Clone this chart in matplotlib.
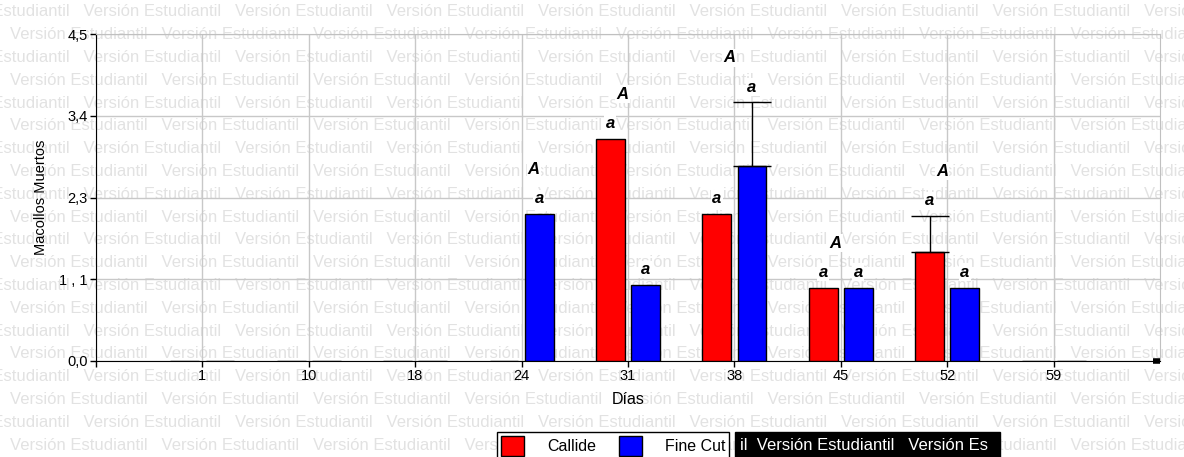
import numpy as np
import matplotlib.pyplot as plt
from matplotlib.patches import Patch, Rectangle

plt.rcParams['font.family'] = ['Liberation Sans', 'DejaVu Sans']

# Datos: macollos muertos por día de muestreo
dias = ['1', '10', '18', '24', '31', '38', '45', '52', '59']
callide = [0, 0, 0, 0, 3.06, 2.02, 1.01, 1.50, 0]
fine_cut = [0, 0, 0, 2.02, 1.05, 2.69, 1.01, 1.01, 0]
err_callide = [0, 0, 0, 0, 0, 0, 0, 0.50, 0]
err_fine = [0, 0, 0, 0, 0, 0.87, 0, 0, 0]
let_callide = ['', '', '', '', 'a', 'a', 'a', 'a', '']
let_fine = ['', '', '', 'a', 'a', 'a', 'a', 'a', '']
let_grupo = ['', '', '', 'A', 'A', 'A', 'A', 'A', '']
yticks = [0, 1.125, 2.25, 3.375, 4.5]
ytick_labels = ['0,0', '1 , 1', '2,3', '3,4', '4,5']

W, H = 1184, 457
fig = plt.figure(figsize=(W / 100, H / 100), dpi=100)

# marca de agua de fondo
marca = 'Versión Estudiantil   ' * 9
for i in range(20):
    yp = 12 + 22.8 * i
    xp = 10 if i % 2 else -68
    t = fig.text(xp / W, 1 - yp / H, marca, fontsize=12, color='#e2e2e2',
                 va='center', ha='left', zorder=-5)
    t.set_clip_on(True)

ax = fig.add_axes([96 / W, 1 - 361 / H, (1160 - 96) / W, (361 - 34) / H])
ax.set_facecolor('none')

x = np.arange(1, len(dias) + 1)
w = 0.27
off = 0.165
xc = x - off
xf = x + off

ax.bar(xc, callide, w, color='#ff0000', edgecolor='black', linewidth=1, zorder=3)
ax.bar(xf, fine_cut, w, color='#0000ff', edgecolor='black', linewidth=1, zorder=3)

for xs, vals, errs in [(xc, callide, err_callide), (xf, fine_cut, err_fine)]:
    for xi, v, e in zip(xs, vals, errs):
        if e > 0:
            ax.errorbar(xi, v, yerr=[[0], [e]], color='black', lw=1,
                        capsize=14, capthick=1, zorder=4)

caja = dict(facecolor='white', edgecolor='none', pad=1)
for xs, vals, errs, lets in [(xc, callide, err_callide, let_callide),
                             (xf, fine_cut, err_fine, let_fine)]:
    for xi, v, e, t in zip(xs, vals, errs, lets):
        if t:
            ax.annotate(t, (xi, v + e), xytext=(0, 11), textcoords='offset points',
                        ha='center', va='center', fontsize=12, fontweight='bold',
                        fontstyle='italic', bbox=caja, zorder=5)

for i, t in enumerate(let_grupo):
    if not t:
        continue
    tops = [(xc[i], callide[i] + err_callide[i]), (xf[i], fine_cut[i] + err_fine[i])]
    tops = [p for p in tops if p[1] > 0]
    xm = np.mean([p[0] for p in tops]) - 0.05
    ym = max(p[1] for p in tops)
    ax.annotate(t, (xm, ym), xytext=(0, 32), textcoords='offset points',
                ha='center', va='center', fontsize=12, fontweight='bold',
                fontstyle='italic', bbox=caja, zorder=5)

ax.set_xlim(0, 10)
ax.set_ylim(0, 4.5)
ax.set_xticks(np.arange(0, 10), [''] + dias)
ax.set_yticks(yticks, ytick_labels)
ax.tick_params(axis='both', labelsize=10.5, length=4, width=1, color='black', pad=2)
ax.grid(True, color='#c8c8c8', lw=1, zorder=0)
ax.set_axisbelow(True)

for s in ['top', 'right']:
    ax.spines[s].set_color('#c0c0c0')
ax.spines['left'].set_color('black')
ax.spines['bottom'].set_color('black')
ax.plot([9.93, 10], [0, 0], color='black', lw=4, solid_capstyle='butt',
        clip_on=False, zorder=6)

ax.set_xlabel('Días', fontsize=11.5, labelpad=6)
ax.set_ylabel('Macollos Muertos', fontsize=10.5, labelpad=8)

# franja oscura junto a la leyenda
fig.patches.append(Rectangle((735 / W, 0), (1000 - 735) / W, 25 / H,
                             transform=fig.transFigure, color='black', zorder=1))
fig.text(740 / W, 12 / H, 'il  Versión Estudiantil   Versión Es', color='white',
         fontsize=12, va='center', zorder=2)

handles = [Patch(facecolor='#ff0000', edgecolor='black', label='Callide'),
           Patch(facecolor='#0000ff', edgecolor='black', label='Fine Cut')]
leg = fig.legend(handles=handles, ncol=2, loc='upper left',
                 bbox_to_anchor=(497 / W, 1 - 432 / H), frameon=True, fancybox=False,
                 fontsize=11.5, handlelength=1.45, handleheight=1.55,
                 columnspacing=1.4, handletextpad=1.45, borderpad=0.25,
                 borderaxespad=0, edgecolor='black', framealpha=1)
leg.get_frame().set_linewidth(1)
leg.set_zorder(3)

fig.savefig('out.png', dpi=100)
